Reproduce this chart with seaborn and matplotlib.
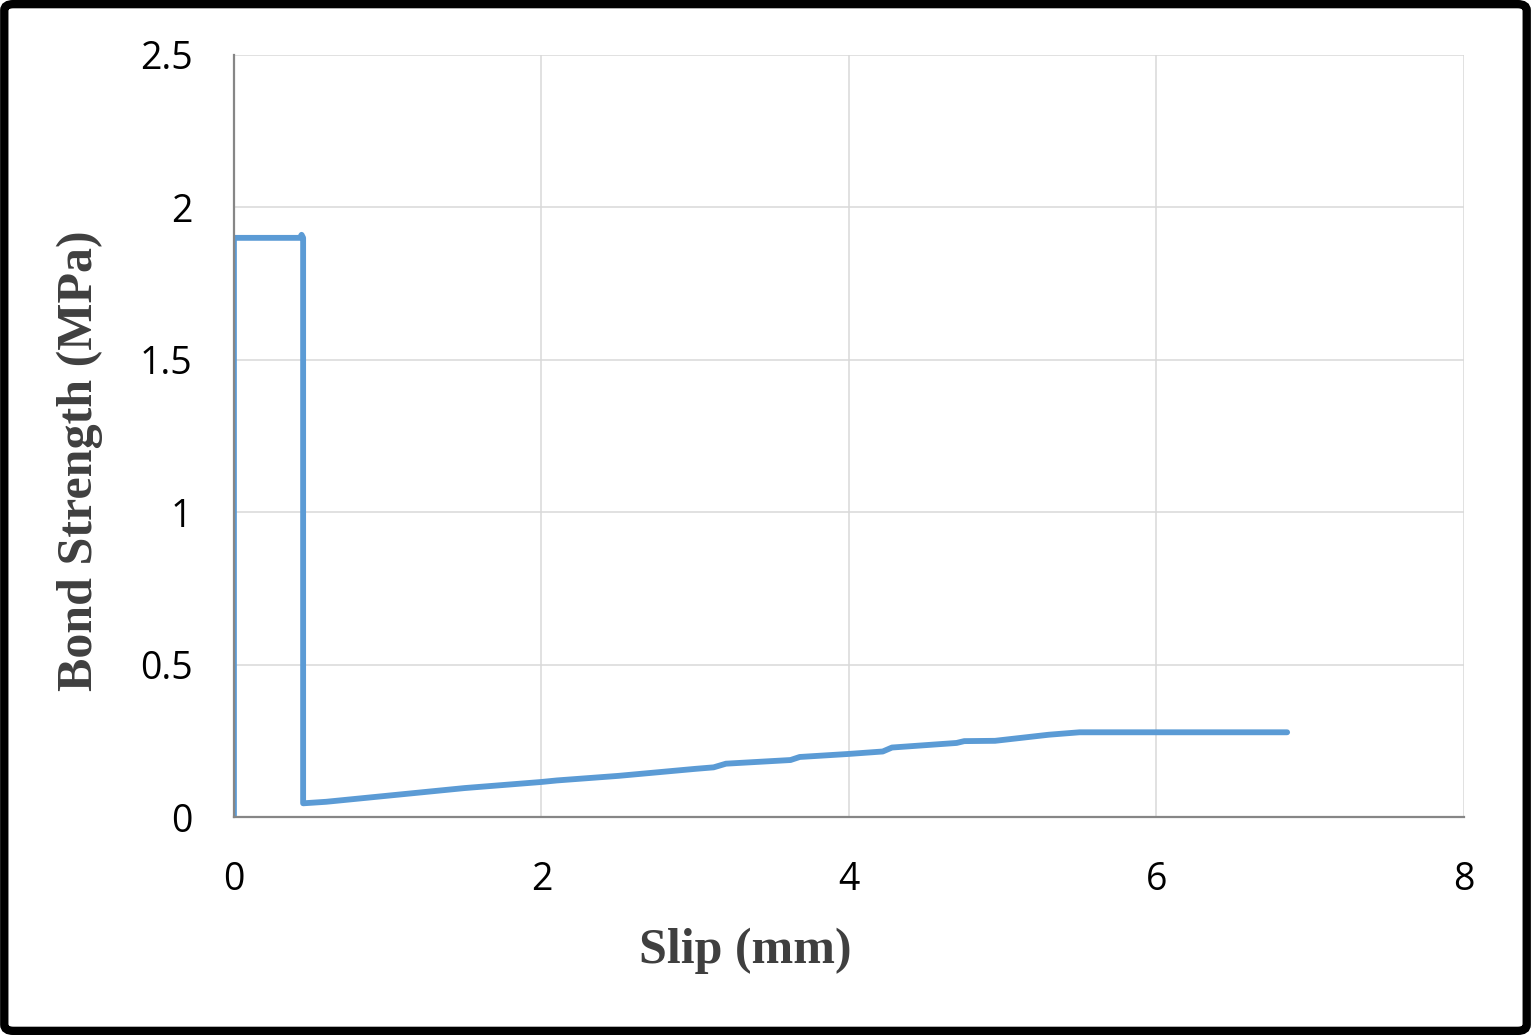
import numpy as np
import pandas as pd
from matplotlib import pyplot as plt
from matplotlib.patches import FancyBboxPatch
import seaborn as sns

# slip / bond strength curve
slip = [0, 0, 0.43, 0.44, 0.45, 0.45, 0.6, 1.0, 1.5, 2.0, 2.1, 2.5, 3.0, 3.12,
        3.2, 3.62, 3.68, 4.0, 4.22, 4.28, 4.7, 4.75, 4.95, 5.3, 5.5, 6.85]
strength = [0, 1.9, 1.9, 1.91, 1.9, 0.045, 0.05, 0.07, 0.095, 0.115, 0.12, 0.135,
            0.158, 0.163, 0.175, 0.187, 0.197, 0.207, 0.215, 0.228, 0.243, 0.249,
            0.25, 0.27, 0.278, 0.278]

x_ticks = [0, 2, 4, 6, 8]
y_ticks = [0, 0.5, 1, 1.5, 2, 2.5]
y_tick_labels = ["0", "0.5", "1", "1.5", "2", "2.5"]

df = pd.DataFrame({"slip": slip, "strength": strength})

sns.set_style("white")
plt.rcParams['font.family'] = ['Open Sans', 'DejaVu Sans']

fig = plt.figure(figsize=(15.31, 10.35), dpi=100)
ax = fig.add_axes([0.1528, 0.2106, 0.9562 - 0.1528, 0.9469 - 0.2106])

sns.lineplot(data=df, x="slip", y="strength", sort=False, estimator=None,
             color="#5B9BD5", linewidth=4.2, ax=ax)

ax.set_xlim(0, 8)
ax.set_ylim(0, 2.5)
ax.set_xticks(x_ticks)
ax.set_xticklabels([str(t) for t in x_ticks])
ax.set_yticks(y_ticks)
ax.set_yticklabels(y_tick_labels)
ax.grid(True, color="#D9D9D9", linewidth=1.1)
ax.set_axisbelow(True)

for side in ["top", "right"]:
    ax.spines[side].set_visible(False)
for side in ["left", "bottom"]:
    ax.spines[side].set_color("#868686")
    ax.spines[side].set_linewidth(1.6)

ax.tick_params(axis="both", which="major", direction="out", length=10, width=1.6,
               color="#868686", labelsize=27, labelcolor="black")
ax.tick_params(axis="x", pad=22)
ax.tick_params(axis="y", pad=20)

ax.set_xlabel("Slip (mm)", fontsize=36, fontweight="bold", color="#3F3F3F",
              family=["Liberation Serif"])
ax.set_ylabel("Bond Strength (MPa)", fontsize=36, fontweight="bold", color="#3F3F3F",
              family=["Liberation Serif"])
ax.xaxis.set_label_coords(0.4154, -0.175)
ax.xaxis.label.set_va("center")
ax.yaxis.set_label_coords(-0.1252, 0.467)
ax.yaxis.label.set_va("center")

# black rounded frame round the whole picture
frame = FancyBboxPatch((0.0028, 0.004), 0.9944, 0.992, boxstyle="round,pad=0,rounding_size=0.006",
                       transform=fig.transFigure, fill=False, edgecolor="black",
                       linewidth=6, zorder=10)
fig.patches.append(frame)

fig.savefig("out.png", dpi=100, facecolor="white")
